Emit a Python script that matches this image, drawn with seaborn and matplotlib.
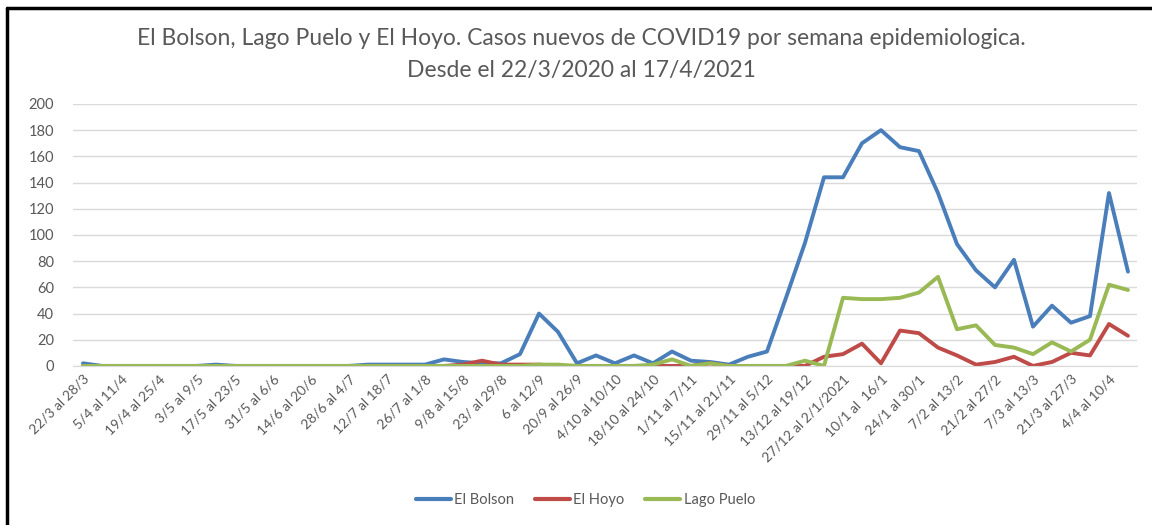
import matplotlib
matplotlib.use("Agg")
import matplotlib.pyplot as plt
import seaborn as sns
import pandas as pd
from matplotlib.lines import Line2D

# ── Data: casos nuevos por semana epidemiologica (22/3/2020 - 17/4/2021) ──
el_bolson = [2, 0, 0, 0, 0, 0, 0, 1, 0, 0, 0, 0, 0, 0, 0, 1, 1, 1, 1, 5,
             3, 2, 2, 9, 40, 26, 2, 8, 2, 8, 2, 11, 4, 3, 1, 7, 11, 52, 94, 144,
             144, 170, 180, 167, 164, 132, 93, 73, 60, 81, 30, 46, 33, 38, 132, 72]
el_hoyo = [0, 0, 0, 0, 0, 0, 0, 0, 0, 0, 0, 0, 0, 0, 0, 0, 0, 0, 0, 0,
           1, 4, 1, 1, 1, 0, 0, 0, 0, 0, 0, 0, 0, 2, 0, 0, 0, 0, 0, 7,
           9, 17, 2, 27, 25, 14, 8, 1, 3, 7, 0, 3, 10, 8, 32, 23]
lago_puelo = [0, 0, 0, 0, 0, 0, 0, 0, 0, 0, 0, 0, 0, 0, 0, 0, 0, 0, 0, 0,
              0, 0, 0, 0, 1, 1, 0, 0, 0, 0, 1, 5, 0, 2, 0, 0, 0, 0, 4, 0,
              52, 51, 51, 52, 56, 68, 28, 31, 16, 14, 9, 18, 11, 20, 62, 58]

# labels shown on the axis (every second week)
tick_labels = ["22/3 al 28/3", "5/4 al 11/4", "19/4 al 25/4", "3/5 al 9/5",
               "17/5 al 23/5", "31/5 al 6/6", "14/6 al 20/6", "28/6 al 4/7",
               "12/7 al 18/7", "26/7 al 1/8", "9/8 al 15/8", "23/ al 29/8",
               "6 al 12/9", "20/9 al 26/9", "4/10 al 10/10", "18/10 al 24/10",
               "1/11 al 7/11", "15/11 al 21/11", "29/11 al 5/12", "13/12 al 19/12",
               "27/12 al 2/1/2021", "10/1 al  16/1", "24/1 al 30/1", "7/2 al 13/2",
               "21/2 al 27/2", "7/3 al 13/3", "21/3 al 27/3", "4/4 al 10/4"]

series = {"El Bolson": el_bolson, "El Hoyo": el_hoyo, "Lago Puelo": lago_puelo}
colors = {"El Bolson": "#4A7EBB", "El Hoyo": "#BE4B48", "Lago Puelo": "#98B954"}

df = pd.DataFrame(series)
df["semana"] = range(len(df))
long = df.melt(id_vars="semana", var_name="localidad", value_name="casos")

# ── Plot ──────────────────────────────────────────────────────────────────
sns.set_style("white")
plt.rcParams["font.family"] = ["Lato", "DejaVu Sans"]

fig = plt.figure(figsize=(11.52, 5.25), dpi=100)
ax = fig.add_axes([0.0638, 0.303, 0.9236, 0.499])

sns.lineplot(data=long, x="semana", y="casos", hue="localidad",
             palette=colors, linewidth=2.8, ax=ax, legend=False)

ax.set_xlim(-0.5, len(df) - 0.5)
ax.set_ylim(0, 200)
ax.set_yticks(range(0, 201, 20))
ax.set_xticks(range(0, len(df), 2))
ax.set_xticklabels(tick_labels, rotation=45, ha="right", rotation_mode="anchor",
                   fontsize=10, color="#595959")
ax.tick_params(axis="y", labelsize=10.5, colors="#595959", length=0, pad=14)
ax.tick_params(axis="x", length=0, pad=5)
ax.grid(axis="y", color="#D9D9D9", linewidth=1)
ax.set_axisbelow(True)
for side in ["top", "right", "left"]:
    ax.spines[side].set_visible(False)
ax.spines["bottom"].set_color("#D9D9D9")
ax.set_xlabel("")
ax.set_ylabel("")

fig.text(0.505, 0.927, "El Bolson, Lago Puelo y El Hoyo. Casos nuevos de COVID19 por semana epidemiologica.",
         ha="center", va="center", fontsize=16.5, color="#595959")
fig.text(0.505, 0.865, "Desde el 22/3/2020 al 17/4/2021",
         ha="center", va="center", fontsize=16.5, color="#595959")

handles = [Line2D([], [], color=colors[k], linewidth=3) for k in series]
fig.legend(handles, list(series), loc="center", bbox_to_anchor=(0.508, 0.047),
           ncol=3, frameon=False, fontsize=10.5, handlelength=2.4,
           handletextpad=0.25, columnspacing=1.4, labelcolor="#595959")

# black frame on top and left (cropped screenshot border)
fig.add_artist(Line2D([0.006, 1.0], [0.984, 0.984], color="black", linewidth=2.5,
                      transform=fig.transFigure))
fig.add_artist(Line2D([0.0065, 0.0065], [0.0, 0.984], color="black", linewidth=2.5,
                      transform=fig.transFigure))

fig.savefig("out.png", dpi=100)
plt.close(fig)
